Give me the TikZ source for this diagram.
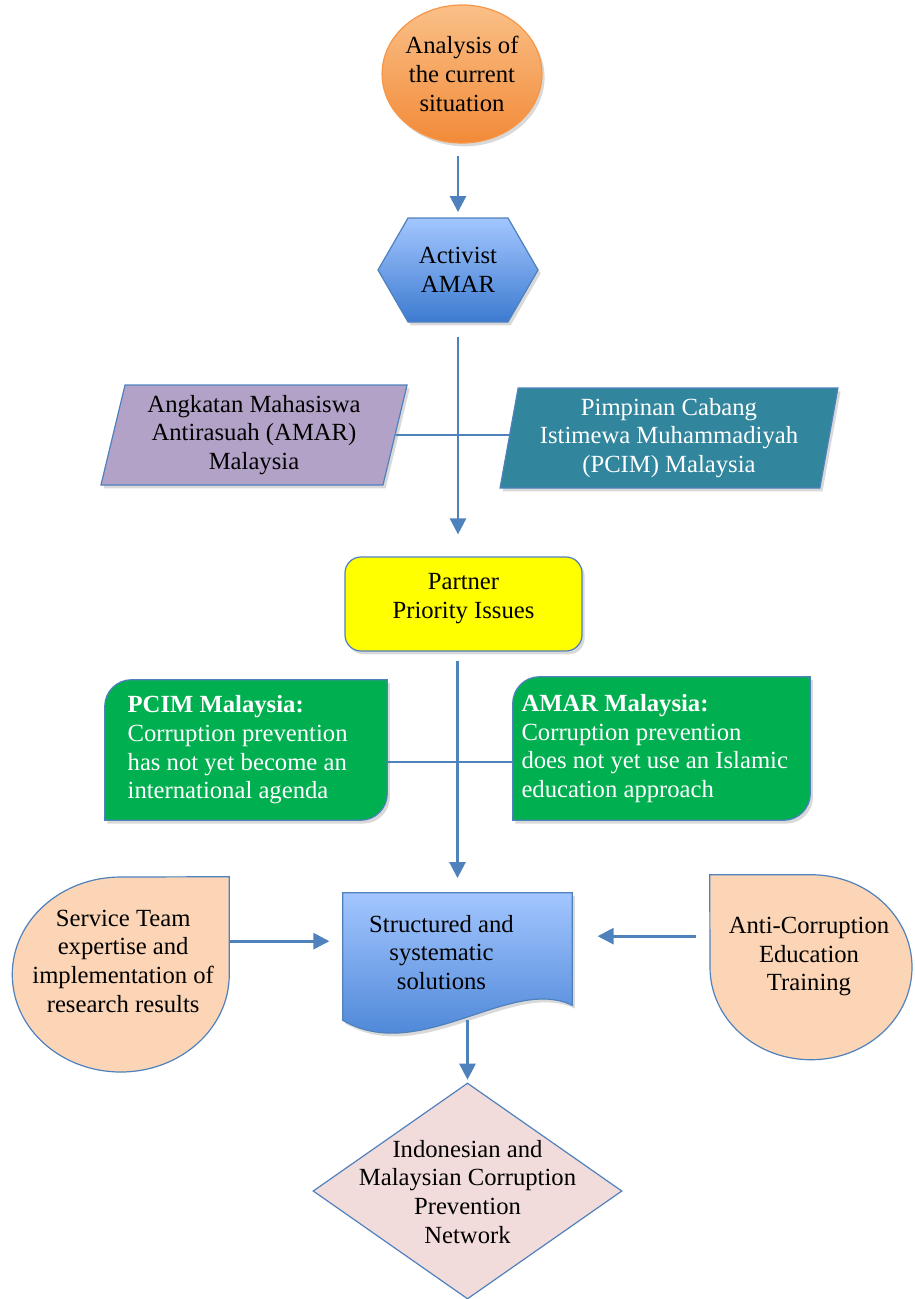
\documentclass[tikz,border=0pt]{standalone}
\usepackage{fontspec}
\setmainfont{Liberation Serif}
\usetikzlibrary{positioning, shapes.geometric, shapes.symbols, shadows, backgrounds, arrows.meta}

\definecolor{linkblue}{HTML}{4F81BD}
\definecolor{orangetop}{HTML}{FAC088}
\definecolor{orangebot}{HTML}{F28A38}
\definecolor{orangeline}{HTML}{F79646}
\definecolor{bluetop}{HTML}{A3C6FF}
\definecolor{bluebot}{HTML}{3D7BD0}
\definecolor{amarpurple}{HTML}{B3A2C7}
\definecolor{pcimteal}{HTML}{31859C}
\definecolor{partneryellow}{HTML}{FFFF00}
\definecolor{issuegreen}{HTML}{00B050}
\definecolor{peach}{HTML}{FBD5B5}
\definecolor{networkpink}{HTML}{F2DCDB}

% text block moved by (#1,#2) from the node centre, taking no room
\newcommand\movedlines[3]{\raisebox{#2}[0pt][0pt]{\makebox[0pt]{\hspace*{#1}\begin{tabular}{@{}c@{}}#3\end{tabular}\hspace*{-#1}}}}

\tikzset{
  box/.style={font=\fontsize{18.5}{21.5}\selectfont, align=center, inner sep=0pt, draw=linkblue, line width=0.9pt},
  plain/.style={font=\fontsize{18.5}{21.5}\selectfont, inner sep=0pt},
  shade/.style={drop shadow={opacity=0.3, shadow xshift=2pt, shadow yshift=-2.5pt}},
  link/.style={draw=linkblue, line width=2pt},
  flow/.style={link, -{Triangle[length=12pt,width=12pt]}},
}

\begin{document}
\begin{tikzpicture}[x=0.75pt,y=0.75pt]
\useasboundingbox (0,0) rectangle (914,-1299);

% start and activist
\node[box, ellipse, draw=orangeline, top color=orangetop, bottom color=orangebot, minimum width=118.5pt, minimum height=103.5pt, shade] (analysis) at (462,-74) {Analysis of\\the current\\situation};
\node[box, signal, signal to=east and west, signal pointer angle=120, top color=bluetop, bottom color=bluebot, minimum width=120pt, minimum height=78pt, shade] (activist) at (458,-270) {Activist\\AMAR};

% the two partners
\node[box, trapezium, trapezium stretches=true, trapezium left angle=76, trapezium right angle=104, fill=amarpurple, minimum width=230pt, minimum height=75pt, shade] (amar) at (254,-435) {Angkatan Mahasiswa\\Antirasuah (AMAR)\\Malaysia};
\node[box, trapezium, trapezium stretches=true, trapezium left angle=79, trapezium right angle=101, fill=pcimteal, text=white, minimum width=253.5pt, minimum height=75pt, shade] (pcim) at (669,-438) {Pimpinan Cabang\\Istimewa Muhammadiyah\\(PCIM) Malaysia};

\node[box, rectangle, rounded corners=12pt, fill=partneryellow, minimum width=177.75pt, minimum height=70.5pt, shade] (partner) at (463.5,-604) {\movedlines{0pt}{0pt}{Partner\\Priority Issues}};

% issues
\node[plain, text=white, align=flush left, text width=177.5pt, inner xsep=17pt, minimum height=105pt] (pcimissue) at (246,-750) {\textbf{PCIM Malaysia:}\\Corruption prevention\\has not yet become an\\international agenda};
\node[plain, text=white, align=flush left, text width=210pt, inner xsep=6.4pt, minimum height=107.25pt] (amarissue) at (661.5,-748.5) {\textbf{AMAR Malaysia:}\\Corruption prevention\\does not yet use an Islamic\\education approach};

% solutions and inputs
\node[plain, minimum width=171.75pt, minimum height=84pt] (solutions) at (457.5,-949) {\movedlines{-12pt}{-9pt}{Structured and\\systematic\\solutions}};
\node[plain, minimum width=162.75pt, minimum height=146.25pt] (serviceteam) at (120.5,-974.5) {\movedlines{2pt}{4pt}{Service Team\\expertise and\\implementation of\\research results}};
\node[plain, minimum width=151.5pt, minimum height=138.75pt] (training) at (811,-967.5) {\movedlines{-1.5pt}{4pt}{Anti-Corruption\\Education\\Training}};

\node[box, diamond, fill=networkpink, minimum width=231.75pt, minimum height=162pt] (network) at (467.5,-1191) {\movedlines{0pt}{-7pt}{Indonesian and\\Malaysian Corruption\\Prevention\\Network}};

\begin{scope}[on background layer]
\path[draw=linkblue, line width=0.9pt, fill=issuegreen, shade] (pcimissue.south west) -- ([yshift=-20pt]pcimissue.north west) arc[start angle=180, end angle=90, radius=20pt] -- (pcimissue.north east) -- ([yshift=20pt]pcimissue.south east) arc[start angle=0, end angle=-90, radius=20pt] -- cycle;
\path[draw=linkblue, line width=0.9pt, fill=issuegreen, shade] (amarissue.south west) -- ([yshift=-20pt]amarissue.north west) arc[start angle=180, end angle=90, radius=20pt] -- (amarissue.north east) -- ([yshift=20pt]amarissue.south east) arc[start angle=0, end angle=-90, radius=20pt] -- cycle;
\path[draw=linkblue, line width=0.9pt, top color=bluetop, bottom color=bluebot, shade] (solutions.north west) -- (solutions.north east) -- (solutions.south east) .. controls +(-46.5pt,22.5pt) and +(57.75pt,-33.75pt) .. ([yshift=-11.25pt]solutions.south west) -- cycle;
\path[draw=linkblue, line width=0.9pt, fill=peach] (serviceteam.north east) -- (serviceteam.east) arc[start angle=0, end angle=-90, x radius=81.375pt, y radius=73.125pt] arc[start angle=270, end angle=180, x radius=81.375pt, y radius=73.125pt] arc[start angle=180, end angle=90, x radius=81.375pt, y radius=73.125pt] -- cycle;
\path[draw=linkblue, line width=0.9pt, fill=peach] (training.north west) -- (training.north) arc[start angle=90, end angle=0, x radius=75.75pt, y radius=69.375pt] arc[start angle=0, end angle=-90, x radius=75.75pt, y radius=69.375pt] arc[start angle=270, end angle=180, x radius=75.75pt, y radius=69.375pt] -- cycle;
\end{scope}

% connectors
\draw[flow, shorten <=9pt, shorten >=4pt] (analysis.south -| activist.north) -- (activist.north);
\draw[flow, shorten <=10.5pt, shorten >=16.5pt] (activist.south) -- (activist.south |- partner.north);
\draw[link] (amar.east) -- (amar.east -| pcim.west);
\draw[flow, shorten <=6.75pt, shorten >=11pt] (partner.south -| solutions.north) -- (solutions.north);
\draw[link] ([yshift=-9pt]pcimissue.east) -- ([yshift=-9pt]pcimissue.east -| amarissue.west);
\draw[flow, shorten >=10pt] ([yshift=25pt]serviceteam.east) -- ([yshift=25pt]serviceteam.east -| solutions.west);
\draw[flow, shorten <=10pt, shorten >=19pt] ([yshift=23.5pt]training.west) -- ([yshift=23.5pt]training.west -| solutions.east);
\draw[flow, shorten <=11pt, shorten >=2pt] (solutions.south -| network.north) -- (network.north);
\end{tikzpicture}
\end{document}
